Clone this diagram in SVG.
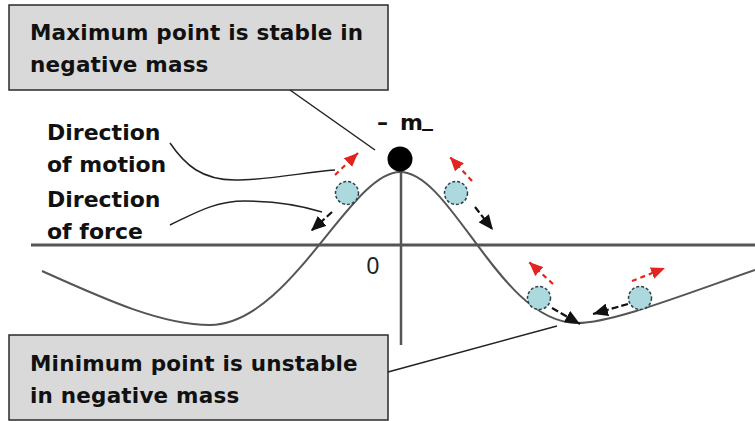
<svg xmlns="http://www.w3.org/2000/svg" width="755" height="421" viewBox="0 0 755 421">
  <defs>
    <style>
      .box { fill: #d9d9d9; stroke: #2a2a2a; stroke-width: 1.5; }
      .t { font-family: "DejaVu Sans", "Liberation Sans", sans-serif; font-weight: bold; font-size: 21.5px; fill: #111; letter-spacing: 0.2px; }
      .lbl { font-family: "DejaVu Sans", "Liberation Sans", sans-serif; font-weight: bold; font-size: 22px; fill: #111; }
      .axis { stroke: #555; fill: none; }
      .curve { stroke: #555; stroke-width: 2; fill: none; }
      .lead { stroke: #222; stroke-width: 1.5; fill: none; }
      .ball { fill: #acd9dd; stroke: #2f3f4f; stroke-width: 1.5; stroke-dasharray: 3 2; }
      .red { stroke: #e3231f; stroke-width: 2.2; stroke-dasharray: 5 4; fill: none; marker-end: url(#redHead); }
      .blk { stroke: #111; stroke-width: 2.2; stroke-dasharray: 7 3; fill: none; marker-end: url(#blkHead); }
    </style>
    <marker id="redHead" viewBox="0 0 14 12" refX="14" refY="6" markerWidth="14" markerHeight="12" markerUnits="userSpaceOnUse" orient="auto">
      <path d="M0,0 L14,6 L0,12 Z" fill="#e3231f"/>
    </marker>
    <marker id="blkHead" viewBox="0 0 15 13" refX="15" refY="6.5" markerWidth="15" markerHeight="13" markerUnits="userSpaceOnUse" orient="auto">
      <path d="M0,0 L15,6.5 L0,13 Z" fill="#111"/>
    </marker>
  </defs>
  <rect width="755" height="421" fill="#ffffff"/>

  <g id="axes">
    <line class="axis" x1="31" y1="245" x2="755" y2="245" stroke-width="3"/>
    <line class="axis" x1="401" y1="165" x2="401" y2="345" stroke-width="2.5" stroke="#444"/>
  </g>

  <g id="curve">
    <path class="curve" d="M42,271 C100,297 160,325 210,325 C290,325 350,172 400,172 C452,172 500,323 577,323 C612,323 680,296 755,270"/>
  </g>

  <g id="label-zero">
    <text x="373" y="274" text-anchor="middle" font-family="Liberation Sans, Arial, sans-serif" font-size="23" fill="#222">0</text>
  </g>

  <g id="mass-top">
    <circle cx="400" cy="159" r="12.5" fill="#000"/>
  </g>
  <g id="label-m">
    <text class="lbl" font-size="20"><tspan x="377" y="130">–</tspan><tspan x="400" y="130">m</tspan><tspan x="422" y="126">_</tspan></text>
  </g>

  <g id="ball-left-top"><circle class="ball" cx="347" cy="193" r="11.5"/></g>
  <g id="ball-right-top"><circle class="ball" cx="456" cy="193" r="11.5"/></g>
  <g id="ball-left-bottom"><circle class="ball" cx="539" cy="298" r="11.5"/></g>
  <g id="ball-right-bottom"><circle class="ball" cx="640" cy="298" r="11.5"/></g>

  <g id="box-max">
    <rect class="box" x="9" y="5" width="379" height="85"/>
    <text class="t" x="30" y="40">Maximum point is stable in</text>
    <text class="t" x="30" y="72">negative mass</text>
  </g>

  <g id="box-min">
    <rect class="box" x="9" y="335" width="379" height="85"/>
    <text class="t" x="30" y="371">Minimum point is unstable</text>
    <text class="t" x="30" y="403">in negative mass</text>
  </g>

  <g id="label-motion">
    <text class="lbl" x="47" y="140">Direction</text>
    <text class="lbl" x="47" y="172">of motion</text>
  </g>
  <g id="label-force">
    <text class="lbl" x="47" y="207">Direction</text>
    <text class="lbl" x="47" y="239">of force</text>
  </g>

  <g id="connectors">
    <line class="lead" x1="290" y1="90" x2="375" y2="150"/>
    <line class="lead" x1="388" y1="372" x2="557" y2="326"/>
    <path class="lead" d="M170,143 C185,165 202,180 235,180 C270,180 305,172 335,170"/>
    <path class="lead" d="M170,225 C195,213 215,201 245,201 C275,201 300,205 322,212"/>
    <line class="red" x1="335" y1="175" x2="358" y2="153"/>
    <line class="red" x1="472" y1="181" x2="450" y2="157"/>
    <line class="red" x1="553" y1="284" x2="529" y2="262"/>
    <line class="red" x1="632" y1="281" x2="665" y2="268"/>
    <line class="blk" x1="332" y1="212" x2="311" y2="231"/>
    <line class="blk" x1="475" y1="207" x2="493" y2="230"/>
    <line class="blk" x1="552" y1="308" x2="580" y2="324"/>
    <line class="blk" x1="628" y1="304" x2="593" y2="314"/>
  </g>
</svg>
